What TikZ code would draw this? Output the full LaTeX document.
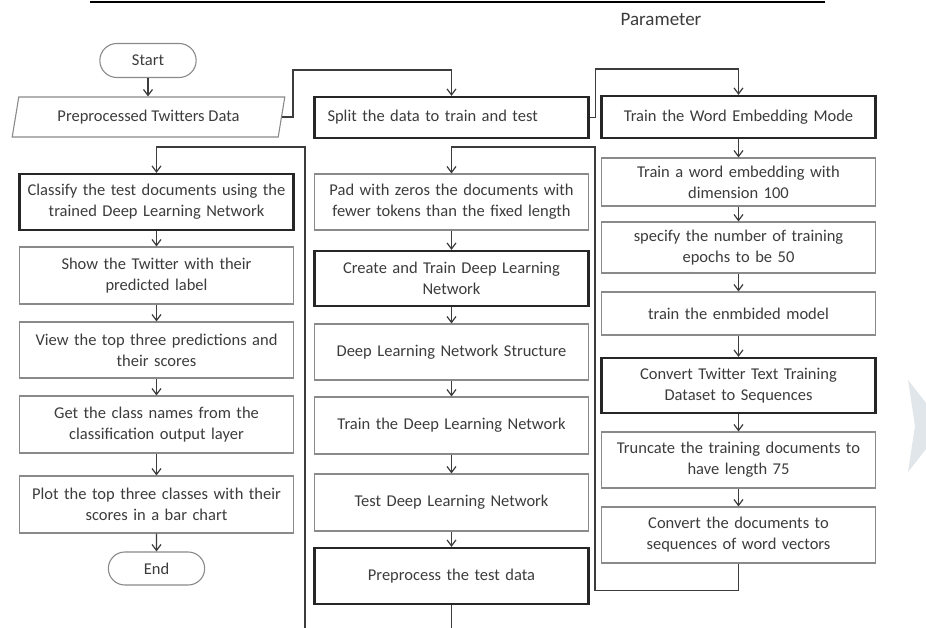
\documentclass[tikz,border=0pt]{standalone}
\usepackage{fontspec}
\setmainfont{Carlito}
\usepackage{xcolor}
\usepackage{tikz}
\usetikzlibrary{arrows.meta,shapes.geometric,shapes.misc}

\definecolor{boxgray}{HTML}{8A8A8A}
\definecolor{inkgray}{HTML}{3C3C3C}
\definecolor{chevgray}{HTML}{E0E6E9}

\begin{document}
\begin{tikzpicture}[x=1pt,y=-1pt,>={Straight Barb[length=6pt,width=9pt]},
  every node/.style={font=\fontsize{16.5}{21}\selectfont,text=inkgray},
  procbox/.style={rectangle,draw=boxgray,line width=1.1pt,minimum width=274pt,text width=262pt,align=center,inner ysep=2pt},
  keybox/.style={procbox,draw=black!85,line width=2.2pt},
  termbox/.style={rounded rectangle,draw=boxgray,line width=1.1pt,minimum width=103pt,minimum height=34pt},
  flow/.style={->,draw=inkgray,line width=1.2pt},
  link/.style={draw=inkgray,line width=1.2pt}]
  \fill[white] (0,0) rectangle (926,628);
  \useasboundingbox (0,0) rectangle (926,628);
  \clip (0,0) rectangle (926,628);

  % header remains of the page
  \draw[line width=1.6pt,black] (90,2) -- (825,2);
  \node[anchor=base,font=\fontsize{19}{22}\selectfont] (param) at (661,26) {Parameter};

  % top row
  \node[termbox] (start) at (148,60.5) {Start};
  \node[trapezium,trapezium left angle=77,trapezium right angle=103,trapezium stretches=true,draw=boxgray,line width=1.1pt,minimum width=273pt,minimum height=40pt] (data) at (148.5,117) {Preprocessed Twitters Data};
  \node[keybox,align=left,text width=248pt,inner xsep=13pt,minimum height=41pt] (split) at (451.5,117.5) {Split the data to train and test};
  \node[keybox,minimum height=42pt] (word) at (738.5,117) {Train the Word Embedding Mode};

  % right column
  \node[procbox,minimum height=48pt] (r1) at (738.5,182) {Train a word embedding with\\dimension 100};
  \node[procbox,minimum height=51pt] (r2) at (738.5,247.5) {specify the number of training\\epochs to be 50};
  \node[procbox,minimum height=43pt] (r3) at (738.5,313.5) {train the enmbided model};
  \node[keybox,minimum height=55pt] (r4) at (738.5,385.5) {Convert Twitter Text Training\\Dataset to Sequences};
  \node[procbox,minimum height=56pt] (r5) at (738.5,460) {Truncate the training documents to\\have length 75};
  \node[procbox,minimum height=56pt] (r6) at (738.5,535) {Convert the documents to\\sequences of word vectors};

  % middle column
  \node[procbox,minimum height=56pt] (m0) at (451.5,202) {Pad with zeros the documents with\\fewer tokens than the fixed length};
  \node[keybox,minimum height=55pt] (m1) at (451.5,278.5) {Create and Train Deep Learning\\Network};
  \node[procbox,minimum height=56pt] (m2) at (451.5,352) {Deep Learning Network Structure};
  \node[procbox,minimum height=57pt] (m3) at (451.5,425.5) {Train the Deep Learning Network};
  \node[procbox,minimum height=57pt] (m4) at (451.5,502.5) {Test Deep Learning Network};
  \node[keybox,minimum height=56pt] (m5) at (451.5,576) {Preprocess the test data};
  \coordinate (mfoot) at (451.5,628);

  % left column
  \node[keybox,minimum height=56pt] (l0) at (156.5,202) {Classify the test documents using the\\trained Deep Learning Network};
  \node[procbox,minimum height=57pt] (l1) at (156.5,275.5) {Show the Twitter with their\\predicted label};
  \node[procbox,minimum height=56pt] (l2) at (156.5,350) {View the top three predictions and\\their scores};
  \node[procbox,minimum height=57pt] (l3) at (156.5,424.5) {Get the class names from the\\classification output layer};
  \node[procbox,minimum height=57pt] (l4) at (156.5,504.5) {Plot the top three classes with their\\scores in a bar chart};
  \node[termbox,minimum height=33pt] (stop) at (156.5,568.5) {End};
  \coordinate (lfoot) at (305,628);

  % connectors
  \draw[flow] (start.south) -- (start.south |- data.north);
  \draw[flow] (data.east) -- ++(11,0) |- (split.north |- 0,70) -- (split.north);
  \draw[flow] (split.east) -- ++(6,0) |- (word.north |- 0,69) -- (word.north);
  \draw[flow] (word) -- (r1);
  \draw[flow] (r1) -- (r2);
  \draw[flow] (r2) -- (r3);
  \draw[flow] (r3) -- (r4);
  \draw[flow] (r4) -- (r5);
  \draw[flow] (r5) -- (r6);
  \draw[flow] (r6.south) -- ++(0,27) -| (595,147) -| (m0.north);
  \draw[flow] (m0) -- (m1);
  \draw[flow] (m1) -- (m2);
  \draw[flow] (m2) -- (m3);
  \draw[flow] (m3) -- (m4);
  \draw[flow] (m4) -- (m5);
  \draw[link] (m5.south) -- (mfoot);
  \draw[flow] (lfoot) |- (l0.north |- 0,147) -- (l0.north);
  \draw[flow] (l0) -- (l1);
  \draw[flow] (l1) -- (l2);
  \draw[flow] (l2) -- (l3);
  \draw[flow] (l3) -- (l4);
  \draw[flow] (l4) -- (stop);

  % grey chevron at the edge
  \fill[chevgray] (908,380) -- (944,426) -- (908,472) -- (915,426) -- cycle;
\end{tikzpicture}
\end{document}
